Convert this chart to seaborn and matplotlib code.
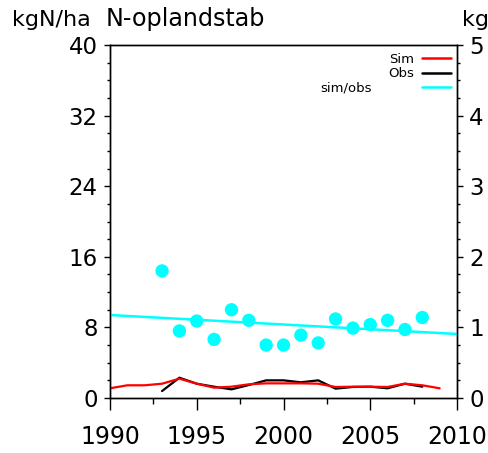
import matplotlib
matplotlib.use("Agg")
import matplotlib.pyplot as plt
import numpy as np
import pandas as pd
import seaborn as sns
from matplotlib.lines import Line2D
from matplotlib.ticker import MultipleLocator

# ---------------- data ----------------
sim_years = list(range(1990, 2010))
sim_vals = [1.10, 1.44, 1.44, 1.62, 2.19, 1.62, 1.17, 1.28, 1.55, 1.66,
            1.66, 1.66, 1.62, 1.25, 1.28, 1.28, 1.25, 1.62, 1.44, 1.10]

obs_years = list(range(1993, 2009))
obs_vals = [0.79, 2.30, 1.62, 1.28, 0.98, 1.47, 2.00, 2.00, 1.78, 2.00,
            1.06, 1.25, 1.28, 1.10, 1.62, 1.28]

ratio_years = list(range(1993, 2009))
ratio_vals = [1.80, 0.95, 1.09, 0.83, 1.25, 1.10, 0.75, 0.75, 0.89, 0.78,
              1.12, 0.99, 1.04, 1.10, 0.97, 1.14]

x_ticks = [1990, 1995, 2000, 2005, 2010]
left_ticks = [0, 8, 16, 24, 32, 40]
right_ticks = [0, 1, 2, 3, 4, 5]

RED = "#FF0000"
CYAN = "#00FFFF"

sim_df = pd.DataFrame({"year": sim_years, "val": sim_vals})
obs_df = pd.DataFrame({"year": obs_years, "val": obs_vals})
ratio_df = pd.DataFrame({"year": ratio_years, "ratio": ratio_vals})

sns.set_style("ticks")
plt.rcParams["font.family"] = ["DejaVu Sans"]
plt.rcParams["text.color"] = "black"

W, H = 489, 453
fig = plt.figure(figsize=(W / 100, H / 100), dpi=100)
ax = fig.add_axes([110 / W, 1 - 398 / H, 347 / W, 353 / H])
ax2 = ax.twinx()

# left axis: Sim / Obs
sns.lineplot(data=obs_df, x="year", y="val", color="black", linewidth=1.6, ax=ax, zorder=2)
sns.lineplot(data=sim_df, x="year", y="val", color=RED, linewidth=1.6, ax=ax, zorder=3)

ax.set_xlim(1990, 2010)
ax.set_ylim(0, 40)
ax2.set_xlim(1990, 2010)
ax2.set_ylim(0, 5)

# right axis: sim/obs ratio + trend
sns.scatterplot(data=ratio_df, x="year", y="ratio", color=CYAN, s=92,
                edgecolor="none", ax=ax2, zorder=3)
sns.regplot(data=ratio_df, x="year", y="ratio", scatter=False, ci=None,
            truncate=False, color=CYAN, line_kws={"linewidth": 1.8}, ax=ax2)
ax2.set_xlim(1990, 2010)
ax2.set_ylim(0, 5)

ax.set_xticks(x_ticks)
ax.set_yticks(left_ticks)
ax.xaxis.set_minor_locator(MultipleLocator(2.5))
ax.yaxis.set_minor_locator(MultipleLocator(2))
ax2.set_yticks(right_ticks)
ax2.yaxis.set_minor_locator(MultipleLocator(0.25))

for a in (ax, ax2):
    a.set_xlabel("")
    a.set_ylabel("")
    for sp in a.spines.values():
        sp.set_visible(True)
        sp.set_color("black")
        sp.set_linewidth(1.0)
    a.tick_params(axis="y", which="major", direction="out", length=4.3, width=1.0,
                  labelsize=16.5, colors="black", pad=4.5)
    a.tick_params(axis="y", which="minor", direction="out", length=2.2, width=1.0,
                  colors="black")

ax.tick_params(axis="x", which="major", direction="out", length=8.6, width=1.0,
               labelsize=17, colors="black", pad=10.5)
ax.tick_params(axis="x", which="minor", direction="out", length=4.3, width=1.0,
               colors="black")

# headers
base = 1 - 26 / H
fig.text(12 / W, base, "kgN/ha", fontsize=16, va="baseline", ha="left")
fig.text(106 / W, base, "N-oplandstab", fontsize=17.2, va="baseline", ha="left")
fig.text(462 / W, base, "kg", fontsize=16, va="baseline", ha="left")

# legend
handles = [Line2D([], [], color=RED, lw=1.8),
           Line2D([], [], color="black", lw=1.8),
           Line2D([], [], color=CYAN, lw=1.8)]
leg = ax2.legend(handles, ["Sim", "Obs", ""], loc="upper right", markerfirst=False,
                 frameon=False, fontsize=9.5, handlelength=2.2, handletextpad=0.6,
                 labelspacing=0.12, borderaxespad=0.0, borderpad=0.2,
                 bbox_to_anchor=(1 - 3 / 347, 1 - 5 / 353))
fig.text(372 / W, 1 - 88 / H, "sim/obs", fontsize=9.5, va="center", ha="right")

fig.savefig("out.png", dpi=100, facecolor="white")
